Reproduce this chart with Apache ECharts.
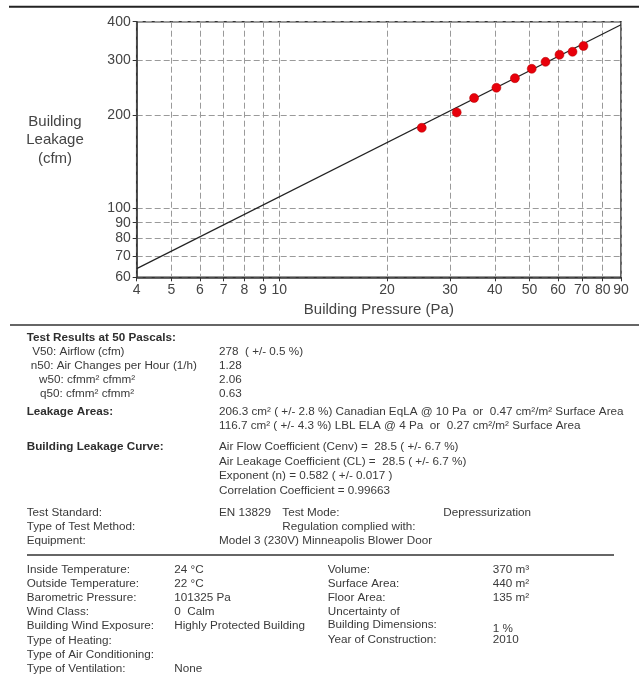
<!DOCTYPE html>
<html>
<head>
<meta charset="utf-8">
<script src="https://cdn.jsdelivr.net/npm/echarts@6/dist/echarts.min.js"></script>
<style>
html,body{margin:0;padding:0;background:#fff;}
#chart{width:639px;height:674px;}
</style>
</head>
<body>
<div id="chart"></div>
<script>
// ---- chart data ----
const pressure = [25, 31.3, 35, 40.4, 45.5, 50.7, 55.4, 60.6, 65.9, 70.7];
const flow = [182, 204, 227, 245, 263, 282, 297, 313, 320, 334];
const fitPressure = [4, 90];
const fitFlow = [64, 391];
const xTicks = [4, 5, 6, 7, 8, 9, 10, 20, 30, 40, 50, 60, 70, 80, 90];
const yTicks = [60, 70, 80, 90, 100, 200, 300, 400];
const xTitle = 'Building Pressure (Pa)';
const yTitle = 'Building\nLeakage\n(cfm)';

// ---- report text ----
const resultsHeader = 'Test Results at 50 Pascals:';
const resultsLabels = ['V50: Airflow (cfm)', 'n50: Air Changes per Hour (1/h)', 'w50: cfmm² cfmm²', 'q50: cfmm² cfmm²'];
const resultsValues = ['278  ( +/- 0.5 %)', '1.28', '2.06', '0.63'];
const leakageHeader = 'Leakage Areas:';
const leakageValues = [
  '206.3 cm² ( +/- 2.8 %) Canadian EqLA @ 10 Pa  or  0.47 cm²/m² Surface Area',
  '116.7 cm² ( +/- 4.3 %) LBL ELA @ 4 Pa  or  0.27 cm²/m² Surface Area'
];
const curveHeader = 'Building Leakage Curve:';
const curveValues = [
  'Air Flow Coefficient (Cenv) =  28.5 ( +/- 6.7 %)',
  'Air Leakage Coefficient (CL) =  28.5 ( +/- 6.7 %)',
  'Exponent (n) = 0.582 ( +/- 0.017 )',
  'Correlation Coefficient = 0.99663'
];
const testLabels = ['Test Standard:', 'Type of Test Method:', 'Equipment:'];
const testValues = ['EN 13829', '', 'Model 3 (230V) Minneapolis Blower Door'];
const testMidLabels = ['Test Mode:', 'Regulation complied with:', ''];
const testMidValues = ['Depressurization', '', ''];
const condLabels = ['Inside Temperature:', 'Outside Temperature:', 'Barometric Pressure:', 'Wind Class:',
  'Building Wind Exposure:', 'Type of Heating:', 'Type of Air Conditioning:', 'Type of Ventilation:'];
const condValues = ['24 °C', '22 °C', '101325 Pa', '0  Calm', 'Highly Protected Building', '', '', 'None'];
const bldLabels = ['Volume:', 'Surface Area:', 'Floor Area:', 'Uncertainty of', 'Building Dimensions:', 'Year of Construction:'];
const bldValues = ['370 m³', '440 m²', '135 m²', '', '1 %', '2010'];

// ---- layout ----
const FONT = '"Liberation Sans", Arial, Helvetica, sans-serif';
const TXT = '#3a3a3a';
const graphics = [];
function txt(x, y, s, bold) {
  if (!s) return;
  graphics.push({
    type: 'text', x: x, y: y, silent: true,
    style: {
      text: s, fill: bold ? '#2e2e2e' : TXT, align: 'left', verticalAlign: 'middle',
      font: (bold ? 'bold ' : '') + '11.7px ' + FONT
    }
  });
}
function rule(x1, x2, y, w, c) {
  graphics.push({ type: 'line', silent: true,
    shape: { x1: x1, y1: y, x2: x2, y2: y },
    style: { stroke: c, lineWidth: w } });
}
rule(9, 639, 6.7, 2, '#222');
rule(10, 639, 325, 1.6, '#333');
rule(27, 614, 555, 1.6, '#333');

// y axis title
graphics.push({ type: 'text', x: 55, y: 140, silent: true,
  style: { text: yTitle, fill: '#444', align: 'center', verticalAlign: 'middle',
    font: '15px ' + FONT, lineHeight: 18.5 } });

const L = 26.7, V = 219;
txt(L, 338, resultsHeader, true);
const resIndent = [32.3, 30.7, 39, 40];
resultsLabels.forEach((s, i) => { txt(resIndent[i], 352 + i * 14, s); txt(V, 352 + i * 14, resultsValues[i]); });
txt(L, 412, leakageHeader, true);
leakageValues.forEach((s, i) => txt(V, 412 + i * 14, s));
txt(L, 447, curveHeader, true);
curveValues.forEach((s, i) => txt(V, 447 + i * 14.5, s));
testLabels.forEach((s, i) => {
  const y = 513 + i * 14;
  txt(L, y, s); txt(V, y, testValues[i]); txt(282.3, y, testMidLabels[i]); txt(443.3, y, testMidValues[i]);
});
condLabels.forEach((s, i) => {
  const y = 569.8 + i * 14.1;
  txt(L, y, s); txt(174.3, y, condValues[i]);
});
const bldY = [570, 584, 598, 612, 624.6, 640];
const bldValY = [570, 584, 598, 612, 628.3, 640];
bldLabels.forEach((s, i) => { txt(327.7, bldY[i], s); txt(492.7, bldValY[i], bldValues[i]); });

const chart = echarts.init(document.getElementById('chart'), null, { renderer: 'canvas' });
chart.setOption({
  animation: false,
  backgroundColor: '#fff',
  textStyle: { fontFamily: FONT },
  grid: { left: 136.7, right: 18, top: 21.7, bottom: 396.7, show: true,
    borderColor: '#333', borderWidth: 1.5, backgroundColor: 'transparent' },
  xAxis: {
    type: 'log', logBase: 10, min: 4, max: 90,
    name: xTitle, nameLocation: 'middle', nameGap: 25,
    nameTextStyle: { fontSize: 15, color: '#444', fontFamily: FONT },
    axisLine: { lineStyle: { color: '#333', width: 1.5 } },
    axisTick: { show: true, customValues: xTicks, length: 4, lineStyle: { color: '#333' } },
    axisLabel: { customValues: xTicks, color: '#444', fontSize: 14, margin: 6, fontFamily: FONT },
    splitLine: { show: true, lineStyle: { color: '#9a9a9a', type: [6, 3], width: 1 } },
    minorTick: { show: false }, minorSplitLine: { show: false }
  },
  yAxis: {
    type: 'log', logBase: 10, min: 60, max: 400,
    axisLine: { lineStyle: { color: '#333', width: 1.5 } },
    axisTick: { show: true, customValues: yTicks, length: 4, lineStyle: { color: '#333' } },
    axisLabel: { customValues: yTicks, color: '#444', fontSize: 14, margin: 6, fontFamily: FONT },
    splitLine: { show: true, lineStyle: { color: '#9a9a9a', type: [6, 3], width: 1 } }
  },
  series: [
    { type: 'line', data: fitPressure.map((p, i) => [p, fitFlow[i]]), showSymbol: false,
      lineStyle: { color: '#222', width: 1.2 }, z: 2, silent: true },
    { type: 'scatter', data: pressure.map((p, i) => [p, flow[i]]), symbolSize: 9,
      itemStyle: { color: '#e8000b', borderColor: '#b00000', borderWidth: 0.5, opacity: 1 }, z: 3 }
  ],
  graphic: graphics
});
</script>
</body>
</html>
